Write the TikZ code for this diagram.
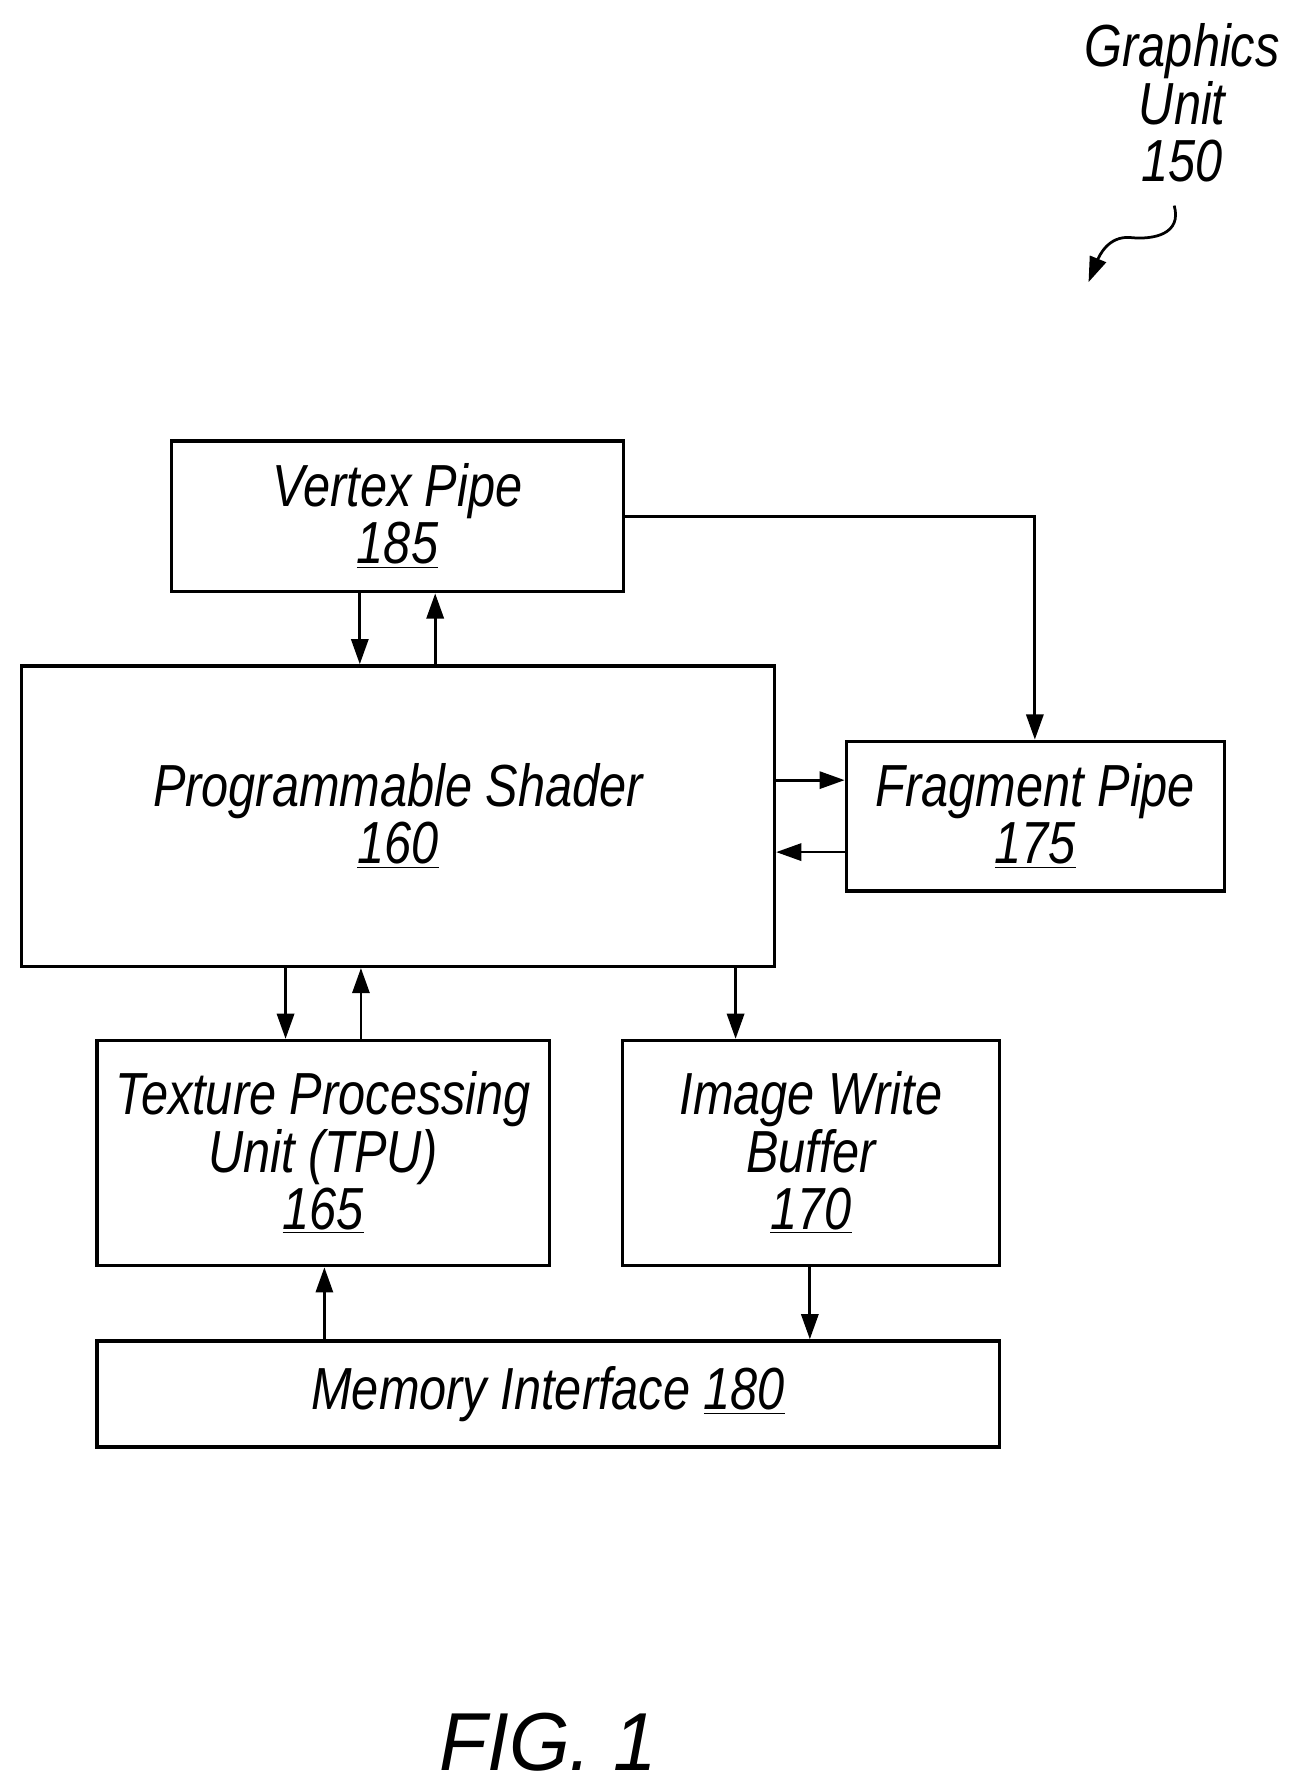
\documentclass[tikz,border=0pt]{standalone}
\usepackage{fontspec}
\setmainfont{Liberation Sans}[FakeStretch=0.82]
\newfontfamily\figfont{Liberation Sans}[FakeStretch=0.95]
\usetikzlibrary{arrows.meta}
\tikzset{
  blk/.style={draw, line width=1.5pt, inner sep=0pt, align=center, font=\itshape\fontsize{26}{25}\selectfont},
  lnk/.style={line width=1.2pt, -{Triangle[length=11pt,width=7.5pt]}},
}
\begin{document}
\begin{tikzpicture}[x=0.5pt,y=-0.5pt]
\useasboundingbox (0,0) rectangle (1135,1568);

% Blocks
\node[blk, minimum width=198pt, minimum height=66pt] (vp) at (348,452) {Vertex Pipe\\\underline{185}};
\node[blk, minimum width=329.5pt, minimum height=131.5pt] (ps) at (348.5,714.5) {Programmable Shader\\\underline{160}};
\node[blk, minimum width=165.5pt, minimum height=65.5pt] (fp) at (906.5,714.5) {Fragment Pipe\\\underline{175}};
\node[blk, minimum width=198pt, minimum height=98.5pt] (tpu) at (283,1009.5) {Texture Processing\\Unit (TPU)\\\underline{165}};
\node[blk, minimum width=165pt, minimum height=98.5pt] (iwb) at (710,1009.5) {Image Write\\Buffer\\\underline{170}};
\node[blk, minimum width=395pt, minimum height=46.5pt] (mi) at (480,1220.5) {Memory Interface \underline{180}};

% Connections
\draw[lnk] (vp.south -| 315,0) -- (ps.north -| 315,0);
\draw[lnk] (ps.north -| 381,0) -- (vp.south -| 381,0);
\draw[lnk] (vp.east |- 0,452) -| (fp.north -| 906,0);
\draw[lnk] (ps.east |- 0,683) -- (fp.west |- 0,683);
\draw[lnk] (fp.west |- 0,746) -- (ps.east |- 0,746);
\draw[lnk] (ps.south -| 250,0) -- (tpu.north -| 250,0);
\draw[lnk] (tpu.north -| 316,0) -- (ps.south -| 316,0);
\draw[lnk] (ps.south -| 644,0) -- (iwb.north -| 644,0);
\draw[lnk] (mi.north -| 284,0) -- (tpu.south -| 284,0);
\draw[lnk] (iwb.south -| 709,0) -- (mi.north -| 709,0);

% Label
\node[align=center, font=\itshape\fontsize{26}{25}\selectfont] (gu) at (1035,90) {Graphics\\Unit\\150};
\coordinate (gtip) at (953,247);
\draw[lnk] (1028,180) .. controls (1035,205) and (1010,210) .. (990,208) .. controls (970,206) and (962,225) .. (gtip);

\node[font=\figfont\itshape\fontsize{36}{40}\selectfont] (fig) at (480,1525) {FIG. 1};
\end{tikzpicture}
\end{document}
